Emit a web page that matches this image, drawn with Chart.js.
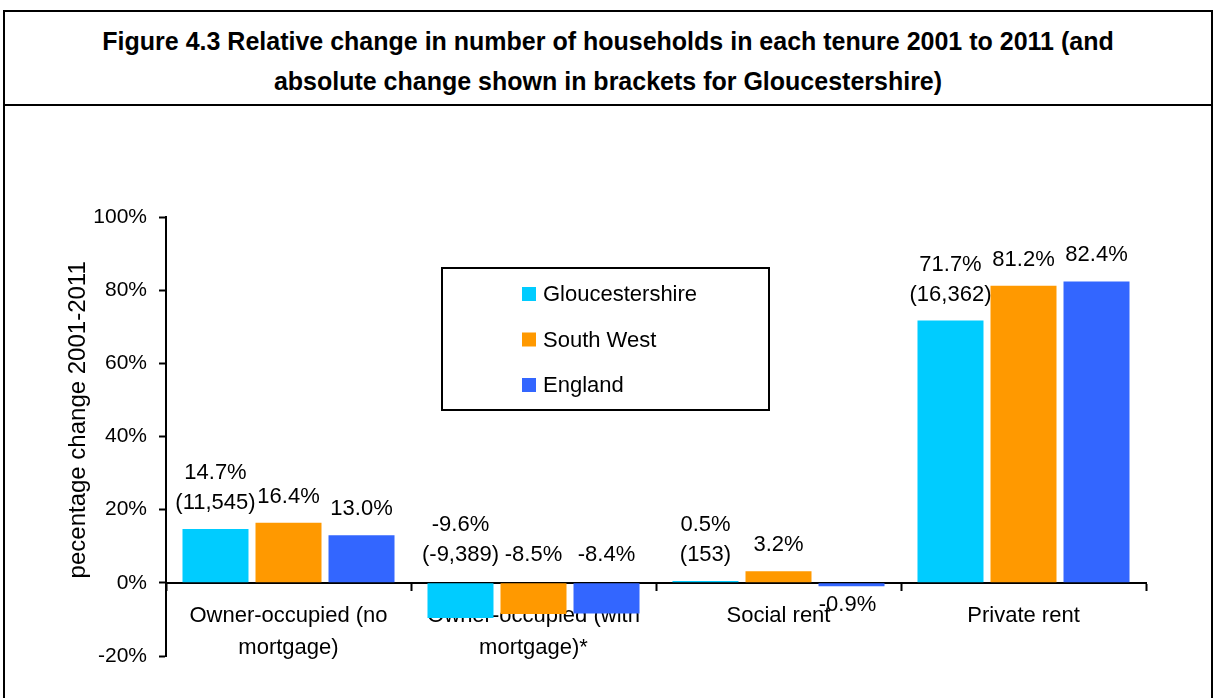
<!DOCTYPE html>
<html>
<head>
<meta charset="utf-8">
<title>Figure 4.3</title>
<script src="https://cdn.jsdelivr.net/npm/chart.js@4.4.1/dist/chart.umd.min.js"></script>
<style>
  html, body { margin: 0; padding: 0; background: #fff; overflow: hidden; }
  #frame { position: absolute; left: 3px; top: 10px; width: 1210px; height: 720px; border: 2px solid #000; box-sizing: border-box; }
  #title { position: absolute; left: 3px; top: 10px; width: 1210px; height: 96px; padding-top: 5px; border: 2px solid #000; box-sizing: border-box;
           display: flex; align-items: center; justify-content: center; text-align: center;
           font-family: 'Liberation Sans', Arial, sans-serif; font-weight: bold; font-size: 25px; line-height: 40px; color: #000; }
  #wrap { position: absolute; left: 0; top: 0; width: 1214px; height: 698px; }
</style>
</head>
<body>
<div id="frame"></div>
<div id="title"><div>Figure 4.3 Relative change in number of households in each tenure 2001 to 2011 (and<br>absolute change shown in brackets for Gloucestershire)</div></div>
<div id="wrap"><canvas id="tenureChart" width="1214" height="698"></canvas></div>
<script>
// data
const categories = [['Owner-occupied (no', 'mortgage)'], ['Owner-occupied (with', 'mortgage)*'], 'Social rent', 'Private rent'];
const gloucestershire = [14.7, -9.6, 0.5, 71.7];
const southWest = [16.4, -8.5, 3.2, 81.2];
const england = [13.0, -8.4, -0.9, 82.4];
const gloucestershireAbsolute = [11545, -9389, 153, 16362];
const yTicks = [-20, 0, 20, 40, 60, 80, 100];

const FONT = "'Liberation Sans', Arial, sans-serif";

// value labels above each bar (Gloucestershire gets the absolute change too)
const barLabels = {
    id: 'barLabels',
    afterDatasetsDraw(chart) {
        const ctx = chart.ctx;
        const zero = chart.scales.y.getPixelForValue(0);
        ctx.save();
        ctx.font = '22px ' + FONT;
        ctx.fillStyle = '#000';
        ctx.textAlign = 'center';
        ctx.textBaseline = 'middle';
        chart.data.datasets.forEach((ds, di) => {
            chart.getDatasetMeta(di).data.forEach((bar, i) => {
                const v = ds.data[i];
                const lines = [v.toFixed(1) + '%'];
                if (ds.absolute) lines.push('(' + ds.absolute[i].toLocaleString('en-US') + ')');
                if (v < 0 && v > -2) {
                    // tiny fall: label hangs under the bar
                    lines.forEach((t, k) => ctx.fillText(t, bar.x - 4, bar.y + 19 + k * 29));
                    return;
                }
                const gap = v >= 0 ? 26 : 28;
                const anchor = v >= 0 ? bar.y : zero;
                lines.forEach((t, k) => ctx.fillText(t, bar.x, anchor - gap - (lines.length - 1 - k) * 30));
            });
        });
        ctx.restore();
    }
};

// boxed legend sitting inside the plot
const boxLegend = {
    id: 'boxLegend',
    afterDraw(chart) {
        const ctx = chart.ctx;
        const left = 442, top = 268, w = 327, h = 142;
        ctx.save();
        ctx.strokeStyle = '#000';
        ctx.lineWidth = 2;
        ctx.strokeRect(left, top, w, h);
        ctx.font = '22px ' + FONT;
        ctx.textAlign = 'left';
        ctx.textBaseline = 'middle';
        chart.data.datasets.forEach((ds, i) => {
            const cy = top + 26 + i * 45.5;
            ctx.fillStyle = ds.backgroundColor;
            ctx.fillRect(left + 80, cy - 7, 14, 14);
            ctx.fillStyle = '#000';
            ctx.fillText(ds.label, left + 101, cy + 1);
        });
        ctx.restore();
    }
};

new Chart(document.getElementById('tenureChart'), {
    type: 'bar',
    data: {
        labels: categories,
        datasets: [
            { label: 'Gloucestershire', data: gloucestershire, absolute: gloucestershireAbsolute, backgroundColor: '#00CCFF' },
            { label: 'South West', data: southWest, backgroundColor: '#FF9900' },
            { label: 'England', data: england, backgroundColor: '#3366FF' }
        ]
    },
    options: {
        responsive: false,
        animation: false,
        events: [],
        categoryPercentage: 0.894,
        barPercentage: 0.904,
        layout: { padding: { left: 0, top: 217, right: 68, bottom: 42 } },
        plugins: {
            legend: { display: false },
            tooltip: { enabled: false }
        },
        scales: {
            x: {
                position: { y: 0 },
                grid: { offset: true, drawOnChartArea: false, tickLength: 7, color: '#000', tickWidth: 2 },
                border: { color: '#000', width: 2 },
                ticks: { color: '#000', padding: 10, maxRotation: 0, autoSkip: false, font: { family: FONT, size: 22, lineHeight: 1.45 } },
                afterFit(scale) { scale.height = 0; }
            },
            y: {
                min: yTicks[0],
                max: yTicks[yTicks.length - 1],
                ticks: { stepSize: yTicks[1] - yTicks[0], color: '#000', padding: 12, font: { family: FONT, size: 21 }, callback: v => v + '%' },
                grid: { drawOnChartArea: false, tickLength: 7, color: '#000', tickWidth: 2 },
                border: { color: '#000', width: 2 },
                // leading spaces lift the centred (rotated) title a little, as in the original
                title: { display: true, text: '     pecentage change 2001-2011', align: 'center', color: '#000', padding: { top: 64 }, font: { family: FONT, size: 24 } },
                afterFit(scale) { scale.width = 166; }
            }
        }
    },
    plugins: [barLabels, boxLegend]
});
</script>
</body>
</html>
